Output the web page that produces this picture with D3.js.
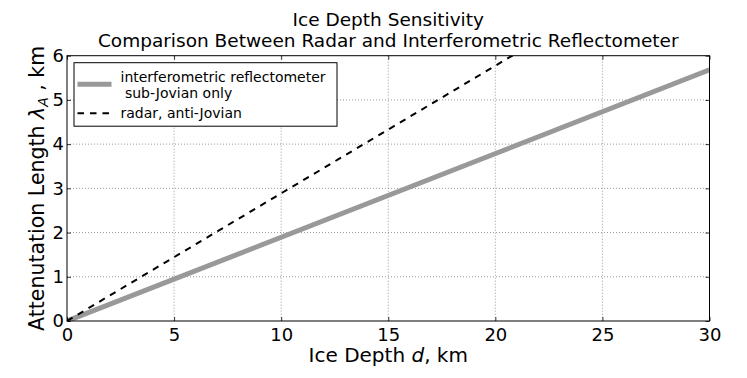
<!DOCTYPE html>
<html>
<head>
<meta charset="utf-8">
<script src="https://cdn.jsdelivr.net/npm/d3@7"></script>
<style>
  body { margin: 0; background: #fff; }
  svg { display: block; font-family: "DejaVu Sans", sans-serif; }
  .tick text { font-family: "DejaVu Sans", sans-serif; }
</style>
</head>
<body>
<svg id="chart" width="747" height="378"></svg>
<script>
// ─── Datos ────────────────────────────────────────────────────────────────────
const depthKm        = [0, 30];
const interfLambdaKm = [0, 5.68];   // interferometric reflectometer, sub-Jovian
const radarLambdaKm  = [0, 8.66];   // radar, anti-Jovian (se recorta en 6)
const xTickValues    = [0, 5, 10, 15, 20, 25, 30];
const yTickValues    = [0, 1, 2, 3, 4, 5, 6];
const titleLines     = ["Ice Depth Sensitivity", "Comparison Between Radar and Interferometric Reflectometer"];

// ─── Geometría ────────────────────────────────────────────────────────────────
const W = 747, H = 378;
const M = { left: 67, right: W - 709.5, top: 55.7, bottom: H - 321 };
const iw = W - M.left - M.right, ih = H - M.top - M.bottom;

const svg = d3.select('#chart');
const x = d3.scaleLinear().domain([0, 30]).range([0, iw]);
const y = d3.scaleLinear().domain([0, 6]).range([ih, 0]);

const g = svg.append('g').attr('transform', `translate(${M.left},${M.top})`);

g.append('clipPath').attr('id', 'clip')
  .append('rect').attr('width', iw).attr('height', ih);

// Rejilla punteada
g.append('g').selectAll('line').data(xTickValues.slice(1, -1)).join('line')
  .attr('x1', d => x(d)).attr('x2', d => x(d)).attr('y1', 0).attr('y2', ih)
  .attr('stroke', '#555').attr('stroke-width', 0.6).attr('stroke-dasharray', '1,2');
g.append('g').selectAll('line').data(yTickValues.slice(1, -1)).join('line')
  .attr('y1', d => y(d)).attr('y2', d => y(d)).attr('x1', 0).attr('x2', iw)
  .attr('stroke', '#555').attr('stroke-width', 0.6).attr('stroke-dasharray', '1,2');

// Series
const line = d3.line().x(d => x(d[0])).y(d => y(d[1]));
const interfPts = depthKm.map((d, i) => [d, interfLambdaKm[i]]);
const radarPts  = depthKm.map((d, i) => [d, radarLambdaKm[i]]);

const plot = g.append('g').attr('clip-path', 'url(#clip)');
plot.append('path').datum(interfPts).attr('d', line)
  .attr('fill', 'none').attr('stroke', '#999').attr('stroke-width', 5);
plot.append('path').datum(radarPts).attr('d', line)
  .attr('fill', 'none').attr('stroke', '#000').attr('stroke-width', 2)
  .attr('stroke-dasharray', '6.5,6');

// Ejes: ticks hacia dentro en los cuatro lados
const styleAxis = sel => {
  sel.select('.domain').remove();
  sel.selectAll('.tick line').attr('stroke', '#000').attr('stroke-width', 0.8);
  sel.selectAll('.tick text').attr('font-size', 18).attr('fill', '#000');
};
const fmt = d3.format('d');
g.append('g').attr('transform', `translate(0,${ih})`)
  .call(d3.axisBottom(x).tickValues(xTickValues).tickFormat(fmt).tickSizeInner(-4).tickPadding(7))
  .call(styleAxis);
g.append('g')
  .call(d3.axisTop(x).tickValues(xTickValues).tickSizeInner(-4).tickFormat(''))
  .call(styleAxis);
g.append('g')
  .call(d3.axisLeft(y).tickValues(yTickValues).tickFormat(fmt).tickSizeInner(-4).tickPadding(3))
  .call(styleAxis);
g.append('g').attr('transform', `translate(${iw},0)`)
  .call(d3.axisRight(y).tickValues(yTickValues).tickSizeInner(-4).tickFormat(''))
  .call(styleAxis);

// Marco
g.append('rect').attr('width', iw).attr('height', ih)
  .attr('fill', 'none').attr('stroke', '#000').attr('stroke-width', 1);

// Leyenda
const leg = g.append('g').attr('transform', 'translate(7,7)');
leg.append('rect').attr('width', 263).attr('height', 63.5)
  .attr('fill', '#fff').attr('stroke', '#000').attr('stroke-width', 1);
leg.append('line').attr('x1', 3.5).attr('x2', 37.5).attr('y1', 21.6).attr('y2', 21.6)
  .attr('stroke', '#999').attr('stroke-width', 5);
leg.append('line').attr('x1', 3.5).attr('x2', 37.5).attr('y1', 50.5).attr('y2', 50.5)
  .attr('stroke', '#000').attr('stroke-width', 2).attr('stroke-dasharray', '6.5,6');
const legText = leg.append('text').attr('font-size', 14).attr('fill', '#000');
legText.append('tspan').attr('x', 46.5).attr('y', 19).text('interferometric reflectometer');
legText.append('tspan').attr('x', 46.5).attr('y', 35.3).text('\u00a0sub-Jovian only');
leg.append('text').attr('font-size', 14).attr('x', 46.5).attr('y', 55).text('radar, anti-Jovian');

// Títulos y etiquetas
const title = svg.append('text').attr('text-anchor', 'middle').attr('font-size', 18.5);
titleLines.forEach((t, i) => {
  title.append('tspan').attr('x', M.left + iw / 2).attr('y', 26 + i * 20.7).text(t);
});

const xl = svg.append('text').attr('text-anchor', 'middle').attr('font-size', 20)
  .attr('x', M.left + iw / 2).attr('y', 362);
xl.append('tspan').text('Ice Depth ');
xl.append('tspan').attr('font-style', 'italic').text('d');
xl.append('tspan').text(', km');

const yl = svg.append('text').attr('text-anchor', 'middle').attr('font-size', 20.5)
  .attr('transform', `translate(44,${M.top + ih / 2}) rotate(-90)`);
yl.append('tspan').text('Attenutation Length ');
yl.append('tspan').attr('font-style', 'italic').text('\u03bb');
yl.append('tspan').attr('font-style', 'italic').attr('font-size', 14).attr('dy', 4).text('A');
yl.append('tspan').attr('dy', -4).text(' , km');
</script>
</body>
</html>
